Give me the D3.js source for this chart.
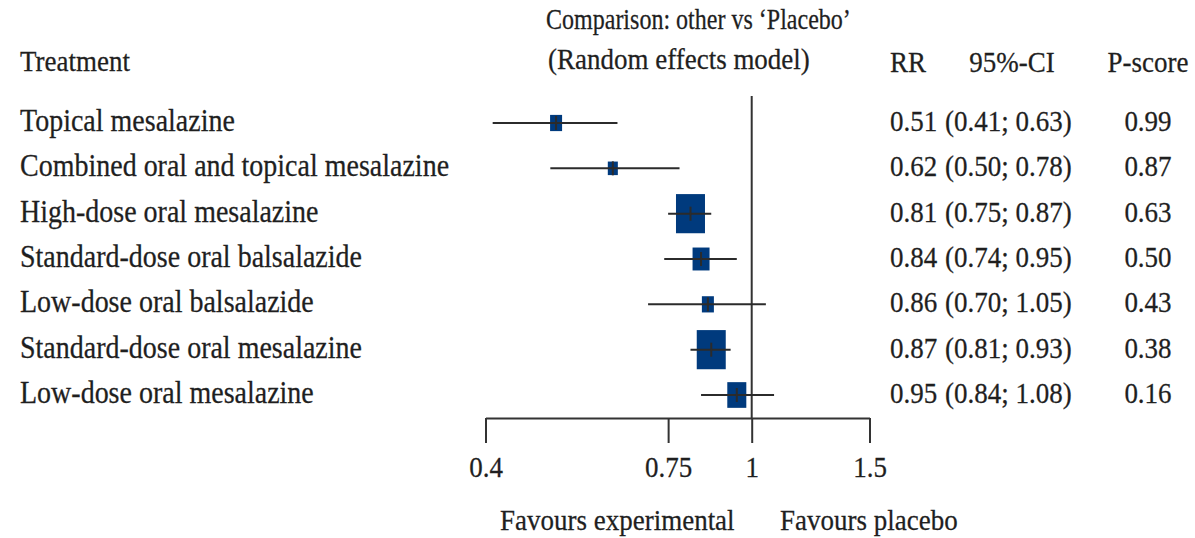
<!DOCTYPE html>
<html lang="en">
<head>
<meta charset="UTF-8">
<title>Forest plot: other vs Placebo</title>
<script src="https://d3js.org/d3.v7.min.js"></script>
<style>
    body { margin: 0; background: #fff; }
    svg text { font-family: "Liberation Serif", "DejaVu Serif", serif; fill: #1f1f1f; font-size: 27px;
               stroke: #1f1f1f; stroke-width: 0.25px; }
</style>
</head>
<body>
<svg width="1195" height="538"></svg>
<script>
// Treatments, top to bottom
const treatments = [
    "Topical mesalazine",
    "Combined oral and topical mesalazine",
    "High-dose oral mesalazine",
    "Standard-dose oral balsalazide",
    "Low-dose oral balsalazide",
    "Standard-dose oral mesalazine",
    "Low-dose oral mesalazine"
];
const rr    = [0.51, 0.62, 0.81, 0.84, 0.86, 0.87, 0.95];
const lower = [0.41, 0.50, 0.75, 0.74, 0.70, 0.81, 0.84];
const upper = [0.63, 0.78, 0.87, 0.95, 1.05, 0.93, 1.08];
const pscore = [0.99, 0.87, 0.63, 0.50, 0.43, 0.38, 0.16];
// relative weight (box area), estimated from square sizes
const weight = [5.3, 3.7, 30.9, 10.6, 5.3, 30.9, 13.3];
const tickValues = [0.4, 0.75, 1, 1.5];

const fmt = d3.format(".2f");
const svg = d3.select("svg");
const sy = 1.12; // text is a bit taller than the font's natural shape

const x = d3.scaleLog().domain([0.4, 1.5]).range([485.5, 869.5]);
const y = d3.scalePoint().domain(treatments).range([123, 395]);
const box = d3.scaleSqrt().domain([0, d3.max(weight)]).range([0, 29]);

const rows = treatments.map((t, i) => ({
    name: t, rr: rr[i], lo: lower[i], hi: upper[i], p: pscore[i], w: weight[i]
}));

function label(parent, tx, ty, str, anchor, sx) {
    return parent.append("text")
        .attr("transform", `translate(${tx},${ty}) scale(${sx || 1},${sy})`)
        .attr("text-anchor", anchor || "start")
        .text(str);
}

// headers
label(svg, 20, 71, "Treatment");
label(svg, 546, 29, "Comparison: other vs \u2018Placebo\u2019", "start", 0.89);
label(svg, 548, 69, "(Random effects model)");
label(svg, 890, 72, "RR");
label(svg, 1012, 72, "95%-CI", "middle");
label(svg, 1148, 72, "P-score", "middle");

// reference line at 1
const axisY = 418;
svg.append("line")
    .attr("x1", x(1)).attr("x2", x(1))
    .attr("y1", 96).attr("y2", axisY)
    .attr("stroke", "#333").attr("stroke-width", 2);

// x axis (ticks pointing down)
const axis = svg.append("g")
    .attr("transform", `translate(0,${axisY})`)
    .call(d3.axisBottom(x).tickValues(tickValues).tickSize(25).tickSizeOuter(0)
        .tickFormat(d => String(d)));
axis.select(".domain").attr("stroke", "#333").attr("stroke-width", 2);
axis.selectAll(".tick line").attr("stroke", "#333").attr("stroke-width", 2);
axis.selectAll(".tick text")
    .attr("y", null).attr("dy", null)
    .attr("transform", `translate(0,59) scale(1,${sy})`)
    .style("font-family", "\"Liberation Serif\", serif")
    .style("font-size", "27px");

label(svg, 500, 530, "Favours experimental");
label(svg, 780, 530, "Favours placebo");

// rows
const g = svg.selectAll(".row").data(rows).join("g").attr("class", "row");

g.each(function (d) {
    const row = d3.select(this);
    const cy = y(d.name);
    label(row, 20, cy + 8, d.name).style("font-size", "28px");
    label(row, 890, cy + 8, fmt(d.rr));
    label(row, 945, cy + 8, `(${fmt(d.lo)}; ${fmt(d.hi)})`);
    label(row, 1148, cy + 8, fmt(d.p), "middle");
});

g.append("rect")
    .attr("x", d => x(d.rr) - box(d.w) / 2)
    .attr("y", d => y(d.name) - box(d.w) * 1.35 / 2)
    .attr("width", d => box(d.w))
    .attr("height", d => box(d.w) * 1.35)
    .attr("fill", "#003a7d");

g.append("line")
    .attr("x1", d => x(d.lo)).attr("x2", d => x(d.hi))
    .attr("y1", d => y(d.name)).attr("y2", d => y(d.name))
    .attr("stroke", "#2b2b2b").attr("stroke-width", 2);

g.append("line")
    .attr("x1", d => x(d.rr)).attr("x2", d => x(d.rr))
    .attr("y1", d => y(d.name) - 7).attr("y2", d => y(d.name) + 7)
    .attr("stroke", "#2b2b2b").attr("stroke-width", 2);
</script>
</body>
</html>
